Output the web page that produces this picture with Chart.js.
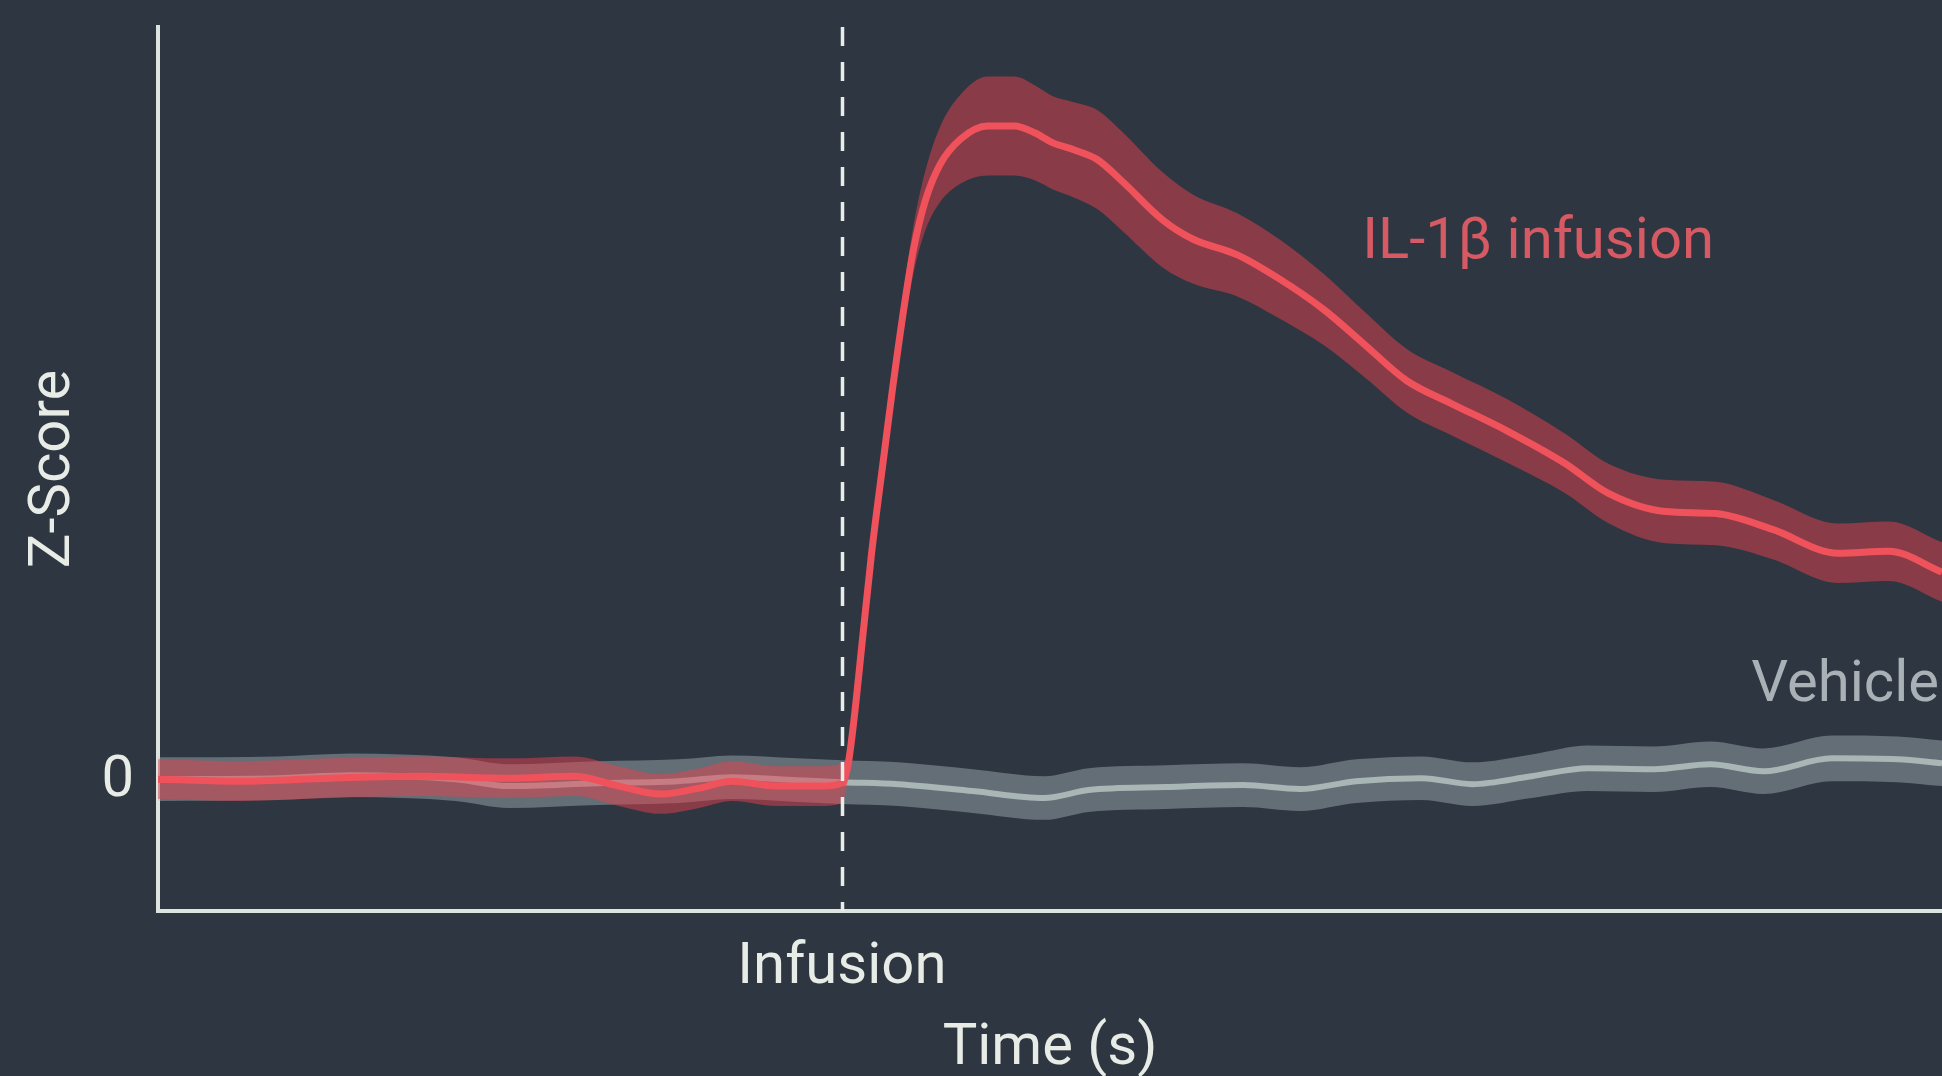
<!DOCTYPE html>
<html>
<head>
<meta charset="utf-8">
<script src="https://cdn.jsdelivr.net/npm/chart.js@4.4.1/dist/chart.umd.min.js"></script>
<style>
  html, body { margin: 0; padding: 0; background: #2e3641; }
  #wrap { width: 1942px; height: 1076px; }
</style>
</head>
<body>
<div id="wrap"><canvas id="chart"></canvas></div>
<script>
// time in seconds relative to infusion, values as z-score
const seriesNames = ['IL-1β infusion', 'Vehicle'];

const ilTime = [-230, -202, -172, -142, -112, -90, -75, -61, -48, -37, -22, -7, 0,
  2, 4, 7, 10, 14, 17, 21, 24, 28, 33, 40,
  49, 58, 65, 71, 78, 86, 94,
  108, 118, 133, 147, 162, 176, 190, 205, 224, 243,
  258, 277, 294, 313, 335, 352, 370];
const ilMean = [0.02, 0.00, 0.03, 0.05, 0.03, 0.05, -0.05, -0.13, -0.07, 0.00, -0.05, -0.05, -0.02,
  0.15, 0.60, 1.45, 2.30, 3.25, 3.95, 4.80, 5.35, 5.85, 6.22, 6.48,
  6.61, 6.61, 6.54, 6.44, 6.37, 6.27, 6.06,
  5.66, 5.47, 5.31, 5.07, 4.76, 4.40, 4.04, 3.81, 3.53, 3.21,
  2.90, 2.72, 2.70, 2.54, 2.30, 2.32, 2.11];
const ilSem = [0.2, 0.2, 0.2, 0.2, 0.2, 0.2, 0.2, 0.2, 0.2, 0.2, 0.2, 0.2, 0.2,
  0.15, 0.15, 0.15, 0.15, 0.15, 0.16, 0.20, 0.24, 0.30, 0.38, 0.45,
  0.50, 0.50, 0.48, 0.47, 0.48, 0.50, 0.50,
  0.48, 0.45, 0.42, 0.40, 0.36, 0.33, 0.32, 0.32, 0.32, 0.30,
  0.30, 0.32, 0.32, 0.30, 0.30, 0.30, 0.30];

const vehTime = [-230, -190, -165, -130, -112, -82, -55, -37, -15, 0,
  19, 44, 68, 83, 109, 135, 154, 173, 195, 212,
  232, 251, 273, 292, 310, 333, 355, 370];
const vehMean = [0.02, 0.03, 0.06, 0.02, -0.05, -0.02, 0.00, 0.04, 0.01, -0.01,
  -0.03, -0.10, -0.17, -0.09, -0.06, -0.04, -0.08, 0.00, 0.03, -0.03,
  0.05, 0.13, 0.12, 0.17, 0.10, 0.23, 0.22, 0.18];
const vehSem = [0.22, 0.22, 0.22, 0.22, 0.22, 0.22, 0.22, 0.22, 0.22, 0.22,
  0.22, 0.22, 0.22, 0.22, 0.22, 0.22, 0.22, 0.22, 0.22, 0.22,
  0.22, 0.23, 0.23, 0.23, 0.23, 0.23, 0.23, 0.23];

const xTicks = [0];
const xTickLabels = ['Infusion'];
const yTicks = [0];

const textColor = '#e8ece6';
const axisColor = '#dde4df';

function toPts(t, v) {
  return t.map((tt, i) => ({ x: tt, y: v[i] }));
}

const infusionMarker = {
  id: 'infusionMarker',
  afterDatasetsDraw(chart) {
    const { ctx, chartArea, scales: { x, y } } = chart;
    const px = Math.round(x.getPixelForValue(xTicks[0])) + 0.5;
    ctx.save();
    ctx.strokeStyle = '#e9ede9';
    ctx.lineWidth = 3.5;
    ctx.setLineDash([19, 16]);
    ctx.beginPath();
    ctx.moveTo(px, chartArea.top);
    ctx.lineTo(px, chartArea.bottom);
    ctx.stroke();
    ctx.setLineDash([]);
    // series labels next to the curves
    ctx.font = '58px Roboto';
    ctx.textBaseline = 'middle';
    ctx.fillStyle = '#d65a63';
    ctx.textAlign = 'left';
    ctx.fillText(seriesNames[0], x.getPixelForValue(175), y.getPixelForValue(5.42));
    ctx.fillStyle = '#a9b1b6';
    ctx.textAlign = 'right';
    ctx.fillText(seriesNames[1], x.getPixelForValue(369), y.getPixelForValue(0.96));
    ctx.restore();
  }
};

const band = { borderColor: 'transparent', borderWidth: 1, pointRadius: 0, cubicInterpolationMode: 'monotone' };

const ctx = document.getElementById('chart');
new Chart(ctx, {
  type: 'line',
  data: {
    datasets: [{
      label: seriesNames[0],
      data: toPts(ilTime, ilMean),
      borderColor: '#f0525c',
      borderWidth: 7,
      pointRadius: 0,
      fill: false,
      cubicInterpolationMode: 'monotone'
    }, {
      ...band,
      label: 'il upper',
      data: toPts(ilTime, ilMean.map((m, i) => m + ilSem[i])),
      backgroundColor: 'rgba(228, 66, 78, 0.5)',
      fill: '+1'
    }, {
      ...band,
      label: 'il lower',
      data: toPts(ilTime, ilMean.map((m, i) => m - ilSem[i])),
      fill: false
    }, {
      label: seriesNames[1],
      data: toPts(vehTime, vehMean),
      borderColor: '#a9b6b6',
      borderWidth: 6,
      pointRadius: 0,
      fill: false,
      cubicInterpolationMode: 'monotone'
    }, {
      ...band,
      label: 'veh upper',
      data: toPts(vehTime, vehMean.map((m, i) => m + vehSem[i])),
      backgroundColor: 'rgba(182, 194, 200, 0.4)',
      fill: '+1'
    }, {
      ...band,
      label: 'veh lower',
      data: toPts(vehTime, vehMean.map((m, i) => m - vehSem[i])),
      fill: false
    }]
  },
  options: {
    responsive: true,
    maintainAspectRatio: false,
    animation: false,
    layout: { padding: { top: 19, left: 0, right: 0, bottom: 0 } },
    plugins: {
      legend: { display: false },
      tooltip: { enabled: false }
    },
    scales: {
      x: {
        type: 'linear',
        min: -230,
        max: 370,
        afterBuildTicks: s => { s.ticks = xTicks.map(v => ({ value: v })); },
        afterFit: s => { s.height = 165; },
        ticks: {
          callback: v => xTickLabels[xTicks.indexOf(v)],
          color: textColor,
          font: { family: 'Roboto', size: 58 },
          padding: 23,
          maxRotation: 0,
          autoSkip: false
        },
        grid: { display: true, color: 'transparent', drawTicks: false },
        border: { display: true, color: axisColor, width: 4 },
        title: {
          display: true,
          text: 'Time (s)',
          color: textColor,
          font: { family: 'Roboto', size: 58, lineHeight: 0.93 },
          padding: 0
        }
      },
      y: {
        type: 'linear',
        min: -1.31,
        max: 7.61,
        afterBuildTicks: s => { s.ticks = yTicks.map(v => ({ value: v })); },
        afterFit: s => { s.width = 158; },
        ticks: {
          color: textColor,
          // small line height so the lone "0" label does not pad the top of the plot
          font: { family: 'Roboto', size: 58, lineHeight: 0.1 },
          padding: 24
        },
        grid: { display: true, color: 'transparent', drawTicks: false },
        border: { display: true, color: axisColor, width: 4 },
        title: {
          display: true,
          text: 'Z-Score',
          color: textColor,
          font: { family: 'Roboto', size: 58, lineHeight: 1.2 },
          padding: { top: 20, bottom: 0 }
        }
      }
    }
  },
  plugins: [infusionMarker]
});
</script>
</body>
</html>
